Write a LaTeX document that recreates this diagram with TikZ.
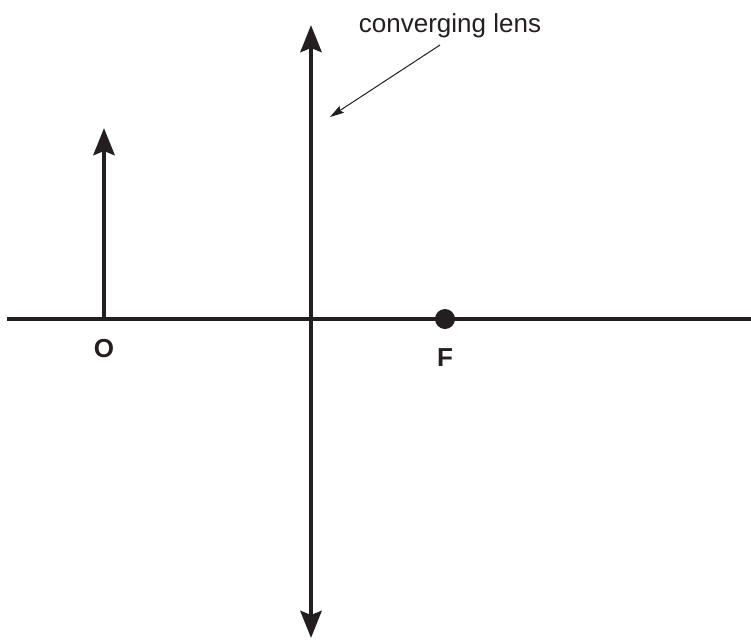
\documentclass[tikz,border=0pt]{standalone}
\usepackage{fontspec}
\setmainfont{Liberation Sans}
\usetikzlibrary{arrows.meta}
\definecolor{ink}{HTML}{231F20}

\begin{document}
\begin{tikzpicture}[x=1pt,y=-1pt,
  axis/.style = {draw=ink, line width=4.5pt},
  bigarr/.style = {-{Stealth[length=27pt,width=21pt,inset=4pt]}},
  twoarr/.style = {{Stealth[length=27pt,width=21pt,inset=4pt]}-{Stealth[length=27pt,width=21pt,inset=4pt]}},
  ptr/.style = {draw=ink, line width=1pt, -{Stealth[length=14pt,width=8pt,inset=2pt]}},
  lbl/.style = {text=ink, font=\bfseries\fontsize{26}{30}\selectfont, inner sep=0pt, anchor=base},
  fdot/.style = {circle, fill=ink, minimum size=20pt, inner sep=0pt}]
\useasboundingbox (0,0) rectangle (751,640);
% optical axis and lens
\coordinate (axL) at (7,319);
\coordinate (axR) at (751,319);
\coordinate (lensT) at (311,25);
\coordinate (lensB) at (311,638);
\coordinate (obj) at (104,319);
\coordinate (objT) at (104,128);
\node (F) [fdot] at (445,319) {};
\node (lO) [lbl] at (104,357) {O};
\node (lF) [lbl] at (445,366) {F};
\node (lens) [text=ink, font=\fontsize{26}{30}\selectfont, inner sep=0pt, anchor=base] at (450,32) {converging lens};
\coordinate (ptrS) at (440,45);
\coordinate (ptrE) at (330,117);
\draw[axis] (axL) -- (axR);
\draw[axis,twoarr] (lensB) -- (lensT);
\draw[axis,bigarr] (obj) -- (objT);
\draw[ptr] (ptrS) -- (ptrE);
\end{tikzpicture}
\end{document}
